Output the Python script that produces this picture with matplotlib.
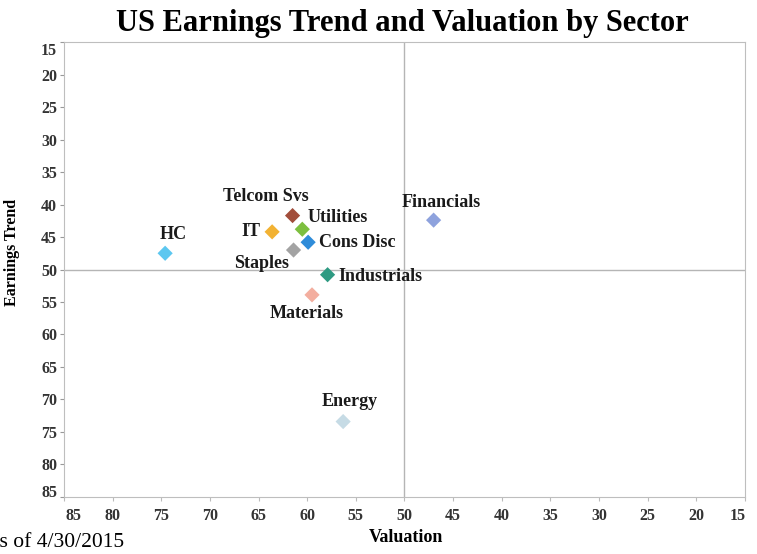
import matplotlib
matplotlib.use("Agg")
import matplotlib.pyplot as plt
import matplotlib.transforms as mtransforms

sectors = ['Telcom Svs', 'Utilities', 'IT', 'Cons Disc', 'Staples',
           'Industrials', 'Materials', 'Financials', 'HC', 'Energy']
valuation = [61.5, 60.5, 63.6, 59.9, 61.4, 57.9, 59.5, 47.0, 74.6, 56.3]
earnings_trend = [41.7, 43.8, 44.2, 45.8, 47.0, 50.8, 53.9, 42.4, 47.5, 73.4]
colors = ['#A24E3B', '#7DBF3F', '#F2B233', '#2F8CD9', '#A3A3A3',
          '#2E9A82', '#F3AE9F', '#8EA2DD', '#5CC7F0', '#C6DBE5']
ticks = list(range(15, 90, 5))

# label offsets in pixels (dx, dy, ha)
offsets = {
    'Telcom Svs': (-27, 19, 'center'),
    'Utilities': (5, 12, 'left'),
    'IT': (-12, 0, 'right'),
    'Cons Disc': (11, 0, 'left'),
    'Staples': (-32, -13, 'center'),
    'Industrials': (11, -2, 'left'),
    'Materials': (-5, -19, 'center'),
    'Financials': (8, 18, 'center'),
    'HC': (8, 19, 'center'),
    'Energy': (7, 20, 'center'),
}

serif = 'Liberation Serif'
fig = plt.figure(figsize=(7.57, 5.54), dpi=100)
ax = fig.add_axes([0.0845, 0.103, 0.8995, 0.821])

ax.axvline(50, color='#B5B5B5', lw=1, zorder=1)
ax.axhline(50, color='#B5B5B5', lw=1, zorder=1)
ax.scatter(valuation, earnings_trend, c=colors, marker='D', s=60,
           edgecolors='none', zorder=3)

for name, x, y in zip(sectors, valuation, earnings_trend):
    dx, dy, ha = offsets[name]
    ax.annotate(name, (x, y), xytext=(dx, dy), textcoords='offset pixels',
                ha=ha, va='center', fontsize=13, fontweight='bold',
                family=serif, color='#1a1a1a')

ax.set_xlim(85, 15)
ax.set_ylim(85, 15)
ax.set_xticks(ticks)
ax.set_yticks(ticks)
for sp in ax.spines.values():
    sp.set_color('#BEBEBE')
ax.tick_params(axis='x', length=3, color='#BBBBBB', pad=5)
ax.tick_params(axis='y', length=3, color='#999999', pad=2)
for lab in ax.get_xticklabels() + ax.get_yticklabels():
    lab.set_fontfamily(serif)
    lab.set_fontweight('bold')
    lab.set_fontsize(11.5)
    lab.set_color('#333333')

# nudge the end tick labels inward (ticks list runs 15 -> 85)
xl = ax.get_xticklabels()
yl = ax.get_yticklabels()
shift = lambda dx, dy: mtransforms.ScaledTranslation(dx / 100, dy / 100, fig.dpi_scale_trans)
xl[0].set_transform(xl[0].get_transform() + shift(-7, 0))
xl[-1].set_transform(xl[-1].get_transform() + shift(10, 0))
yl[0].set_transform(yl[0].get_transform() + shift(0, -7))
yl[-1].set_transform(yl[-1].get_transform() + shift(0, 6))

ax.set_xlabel('Valuation', family=serif, fontweight='bold', fontsize=13)
ax.set_ylabel('Earnings Trend', family=serif, fontweight='bold', fontsize=11.5)
ax.xaxis.set_label_coords(0.503, -0.07)
ax.yaxis.set_label_coords(-0.064, 0.538)

fig.text(0.532, 0.958, 'US Earnings Trend and Valuation by Sector',
         ha='center', va='center', fontsize=22, fontweight='bold', family=serif)
fig.text(-0.021, 0.02, 'As of 4/30/2015', ha='left', va='center',
         fontsize=15.5, family=serif)

fig.savefig('out.png', dpi=100)
